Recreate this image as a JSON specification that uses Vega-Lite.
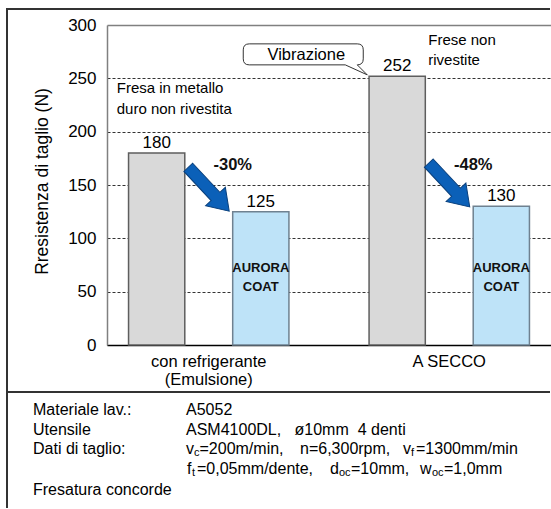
{
  "$schema": "https://vega.github.io/schema/vega-lite/v6.json",
  "padding": {"left": 6, "top": 8, "right": 0, "bottom": 0},
  "background": "white",
  "spacing": 0,
  "bounds": "flush",
  "config": {"font": "Liberation Sans", "view": {"stroke": "#333", "strokeWidth": 2}},
  "datasets": {
    "bars": [
      {"cond": "con refrigerante (Emulsione)", "tool": "Fresa non rivestita", "value": 180},
      {"cond": "con refrigerante (Emulsione)", "tool": "AURORA COAT", "value": 125},
      {"cond": "A SECCO", "tool": "Fresa non rivestita", "value": 252},
      {"cond": "A SECCO", "tool": "AURORA COAT", "value": 130}
    ],
    "drops": [
      {"cond": "con refrigerante (Emulsione)", "arrow_y": 146, "label_y": 169, "label": "-30%"},
      {"cond": "A SECCO", "arrow_y": 150, "label_y": 169, "label": "-48%"}
    ],
    "info": [
      {"line": 1, "pos": 4.79, "t": "Materiale lav.:", "sub": 0},
      {"line": 1, "pos": 32.97, "t": "A5052", "sub": 0},
      {"line": 2, "pos": 4.79, "t": "Utensile", "sub": 0},
      {"line": 2, "pos": 32.97, "t": "ASM4100DL,\u00a0\u00a0\u00a0ø10mm\u00a0\u00a04 denti", "sub": 0},
      {"line": 3, "pos": 4.79, "t": "Dati di taglio:", "sub": 0},
      {"line": 3, "pos": 32.97, "t": "v", "sub": 0},
      {"line": 3, "pos": 34.44, "t": "c", "sub": 1},
      {"line": 3, "pos": 35.45, "t": "=200m/min,", "sub": 0},
      {"line": 3, "pos": 53.96, "t": "n=6,300rpm,", "sub": 0},
      {"line": 3, "pos": 72.93, "t": "v", "sub": 0},
      {"line": 3, "pos": 74.40, "t": "f", "sub": 1},
      {"line": 3, "pos": 75.32, "t": "=1300mm/min", "sub": 0},
      {"line": 4, "pos": 33.15, "t": "f", "sub": 0},
      {"line": 4, "pos": 34.07, "t": "t", "sub": 1},
      {"line": 4, "pos": 34.99, "t": "=0,05mm/dente,", "sub": 0},
      {"line": 4, "pos": 59.48, "t": "d", "sub": 0},
      {"line": 4, "pos": 61.14, "t": "oc", "sub": 1},
      {"line": 4, "pos": 63.35, "t": "=10mm,", "sub": 0},
      {"line": 4, "pos": 76.06, "t": "w", "sub": 0},
      {"line": 4, "pos": 78.27, "t": "oc", "sub": 1},
      {"line": 4, "pos": 80.48, "t": "=1,0mm", "sub": 0},
      {"line": 5.1, "pos": 4.79, "t": "Fresatura concorde", "sub": 0}
    ]
  },
  "vconcat": [
    {
      "width": 543,
      "height": 383,
      "view": {"stroke": "#333", "strokeWidth": 2, "strokeDash": [543, 383, 926], "fill": "white"},
      "layer": [
        {
          "data": {"name": "bars"},
          "mark": {"type": "bar", "strokeWidth": 1.5},
          "encoding": {
            "x": {
              "field": "cond", "type": "nominal", "title": null,
              "scale": {"domain": ["con refrigerante (Emulsione)", "A SECCO"], "range": [100, 544], "paddingInner": 0.16, "paddingOuter": 0.003},
              "axis": {
                "orient": "bottom", "offset": -47, "ticks": false, "grid": false,
                "domainColor": "#000", "domainWidth": 1.5,
                "labelFontSize": 16.5, "labelColor": "#000", "labelPadding": 8, "labelAngle": 0,
                "labelBaseline": "top", "labelLineHeight": 18,
                "labelExpr": "datum.value == 'A SECCO' ? 'A SECCO' : ['con refrigerante', '(Emulsione)']"
              }
            },
            "xOffset": {
              "field": "tool", "type": "nominal",
              "scale": {"domain": ["Fresa non rivestita", "AURORA COAT"], "paddingInner": 0.46, "paddingOuter": 0.2}
            },
            "y": {
              "field": "value", "type": "quantitative",
              "scale": {"domain": [0, 300], "range": [336, 16], "nice": false},
              "axis": {
                "orient": "left", "offset": -100,
                "title": "Rresistenza di taglio (N)", "titleFontSize": 17.5, "titleFontWeight": "normal", "titleColor": "#000",
                "titleX": -65, "titleY": 172, "titleAngle": 270, "titleAlign": "center", "titleBaseline": "middle",
                "values": [0, 50, 100, 150, 200, 250, 300],
                "ticks": false, "labelFontSize": 17, "labelColor": "#000", "labelPadding": 11,
                "domainColor": "#808080", "domainWidth": 1.5,
                "grid": true,
                "gridColor": {"condition": {"test": "datum.value == 300", "value": "#808080"}, "value": "#333"},
                "gridDash": {"condition": {"test": "datum.value == 300", "value": []}, "value": [3, 2]},
                "gridWidth": {"condition": {"test": "datum.value == 300", "value": 1.5}, "value": 1}
              }
            },
            "color": {"field": "tool", "type": "nominal", "scale": {"domain": ["Fresa non rivestita", "AURORA COAT"], "range": ["#d9d9d9", "#bee3f8"]}, "legend": null},
            "stroke": {"field": "tool", "type": "nominal", "scale": {"domain": ["Fresa non rivestita", "AURORA COAT"], "range": ["#5e5e5e", "#6f8190"]}, "legend": null}
          }
        },
        {
          "data": {"name": "bars"},
          "mark": {"type": "text", "baseline": "bottom", "dy": -1, "fontSize": 17, "color": "#000"},
          "encoding": {
            "x": {"field": "cond", "type": "nominal"},
            "xOffset": {"field": "tool", "type": "nominal"},
            "y": {"field": "value", "type": "quantitative"},
            "text": {"field": "value"}
          }
        },
        {
          "data": {"name": "bars"},
          "transform": [{"filter": "datum.tool == 'AURORA COAT'"}],
          "mark": {"type": "text", "text": ["AURORA", "COAT"], "lineHeight": 19, "baseline": "middle", "fontSize": 13, "fontWeight": "bold", "color": "#111"},
          "encoding": {
            "x": {"field": "cond", "type": "nominal"},
            "xOffset": {"field": "tool", "type": "nominal"},
            "y": {"datum": 72}
          }
        },
        {
          "data": {"name": "drops"},
          "mark": {"type": "point", "shape": "M-1,-0.2 L0.33,-0.2 L0.33,-0.45 L1,0 L0.33,0.45 L0.33,0.2 L-1,0.2 Z", "size": 3600, "angle": 47, "filled": true, "fill": "#0b60b8", "stroke": "#083f7c", "strokeWidth": 1, "opacity": 1},
          "encoding": {
            "x": {"field": "cond", "type": "nominal"},
            "y": {"field": "arrow_y", "type": "quantitative"}
          }
        },
        {
          "data": {"name": "drops"},
          "mark": {"type": "text", "dx": 24, "baseline": "middle", "fontSize": 16.5, "fontWeight": "bold", "color": "#111"},
          "encoding": {
            "x": {"field": "cond", "type": "nominal"},
            "y": {"field": "label_y", "type": "quantitative"},
            "text": {"field": "label"}
          }
        },
        {
          "data": {"values": [{"cond": "A SECCO", "note": "Vibrazione", "y": 272}]},
          "mark": {"type": "point", "shape": "M-2,-0.11 L-0.92,-0.11 Q-0.86,-0.11 -0.86,-0.05 L-0.86,0.04 Q-0.86,0.1 -0.92,0.1 L-0.82,0.2 L-1.04,0.1 L-2,0.1 Q-2.06,0.1 -2.06,0.04 L-2.06,-0.05 Q-2.06,-0.11 -2,-0.11 Z", "size": 40000, "filled": true, "fill": "white", "stroke": "#333", "strokeWidth": 1, "opacity": 1},
          "encoding": {
            "x": {"field": "cond", "type": "nominal"},
            "y": {"field": "y", "type": "quantitative"}
          }
        },
        {
          "data": {"values": [{"cond": "A SECCO", "note": "Vibrazione", "y": 272}]},
          "mark": {"type": "text", "dx": -143, "baseline": "middle", "fontSize": 16.5, "color": "#000"},
          "encoding": {
            "x": {"field": "cond", "type": "nominal"},
            "y": {"field": "y", "type": "quantitative"},
            "text": {"field": "note"}
          }
        },
        {
          "data": {"values": [{"cond": "con refrigerante (Emulsione)", "note": "Fresa in metallo\nduro non rivestita", "y": 241}]},
          "mark": {"type": "text", "dx": -92, "align": "left", "baseline": "middle", "lineBreak": "\n", "lineHeight": 21, "fontSize": 15, "color": "#000"},
          "encoding": {
            "x": {"field": "cond", "type": "nominal"},
            "y": {"field": "y", "type": "quantitative"},
            "text": {"field": "note"}
          }
        },
        {
          "data": {"values": [{"cond": "A SECCO", "note": "Frese non\nrivestite", "y": 286}]},
          "mark": {"type": "text", "dx": -21, "align": "left", "baseline": "middle", "lineBreak": "\n", "lineHeight": 20, "fontSize": 15, "color": "#000"},
          "encoding": {
            "x": {"field": "cond", "type": "nominal"},
            "y": {"field": "y", "type": "quantitative"},
            "text": {"field": "note"}
          }
        }
      ]
    },
    {
      "width": 543,
      "height": 116,
      "view": {"stroke": "#333", "strokeWidth": 2, "strokeDash": [543, 659, 116], "fill": "white"},
      "data": {"name": "info"},
      "layer": [
        {
          "transform": [{"filter": "datum.sub == 0"}],
          "mark": {"type": "text", "align": "left", "baseline": "middle", "fontSize": 16, "color": "#000"},
          "encoding": {
            "x": {"field": "pos", "type": "quantitative", "scale": {"domain": [0, 100], "nice": false}, "axis": null},
            "y": {"field": "line", "type": "quantitative", "scale": {"domain": [0, 6], "range": [-1.5, 115.5], "nice": false}, "axis": null},
            "text": {"field": "t"}
          }
        },
        {
          "transform": [{"filter": "datum.sub == 1"}],
          "mark": {"type": "text", "align": "left", "baseline": "middle", "fontSize": 11, "dy": 4, "color": "#000"},
          "encoding": {
            "x": {"field": "pos", "type": "quantitative"},
            "y": {"field": "line", "type": "quantitative"},
            "text": {"field": "t"}
          }
        }
      ]
    }
  ]
}
